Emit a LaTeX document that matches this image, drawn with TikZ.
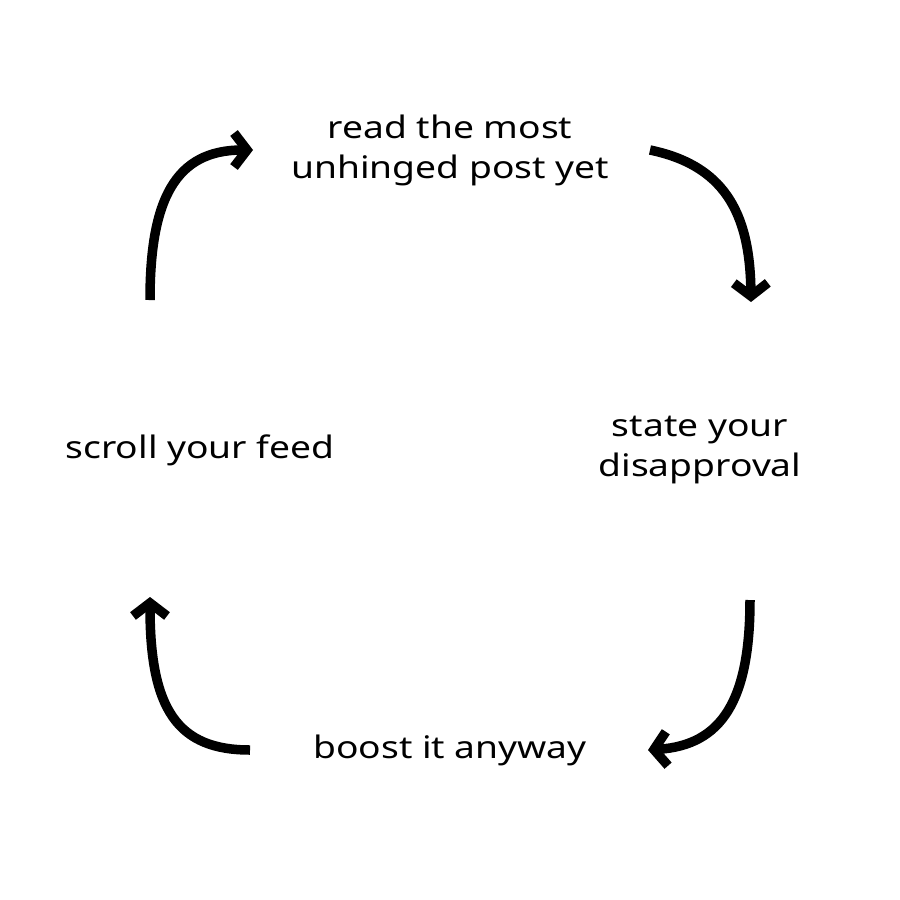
\documentclass[tikz,border=0pt]{standalone}
\usepackage{fontspec}
\setmainfont{Noto Sans}[FakeStretch=1.2]
\usetikzlibrary{arrows.meta}
\begin{document}
\begin{tikzpicture}[x=1pt,y=-1pt,
  lbl/.style={font=\fontsize{31}{40}\selectfont, align=center, inner sep=0pt},
  cyc/.style={line width=9.5pt, line cap=butt, -{Straight Barb[length=13pt,width=34pt,line cap=butt,line join=miter]}}]
\useasboundingbox[fill=white] (0,0) rectangle (900,900);
\node[lbl] (top) at (450,150) {read the most\\unhinged post yet};
\node[lbl] (right) at (700,450) {state your\\disapproval};
\node[lbl] (left) at (200,450) {scroll your feed};
\node[lbl] (bottom) at (450,750) {boost it anyway};
\coordinate (a1s) at (150,300); \coordinate (a1e) at (253,150);
\coordinate (a2s) at (650,150); \coordinate (a2e) at (751,302);
\coordinate (a3s) at (750,600); \coordinate (a3e) at (648,750);
\coordinate (a4s) at (250,750); \coordinate (a4e) at (150,597);
\draw[cyc] (a1s) .. controls (150,200) and (175,150) .. (a1e);
\draw[cyc] (a2s) .. controls (722,165) and (750,210) .. (a2e);
\draw[cyc] (a3s) .. controls (750,700) and (722,745) .. (a3e);
\draw[cyc] (a4s) .. controls (178,750) and (150,710) .. (a4e);
\end{tikzpicture}
\end{document}
